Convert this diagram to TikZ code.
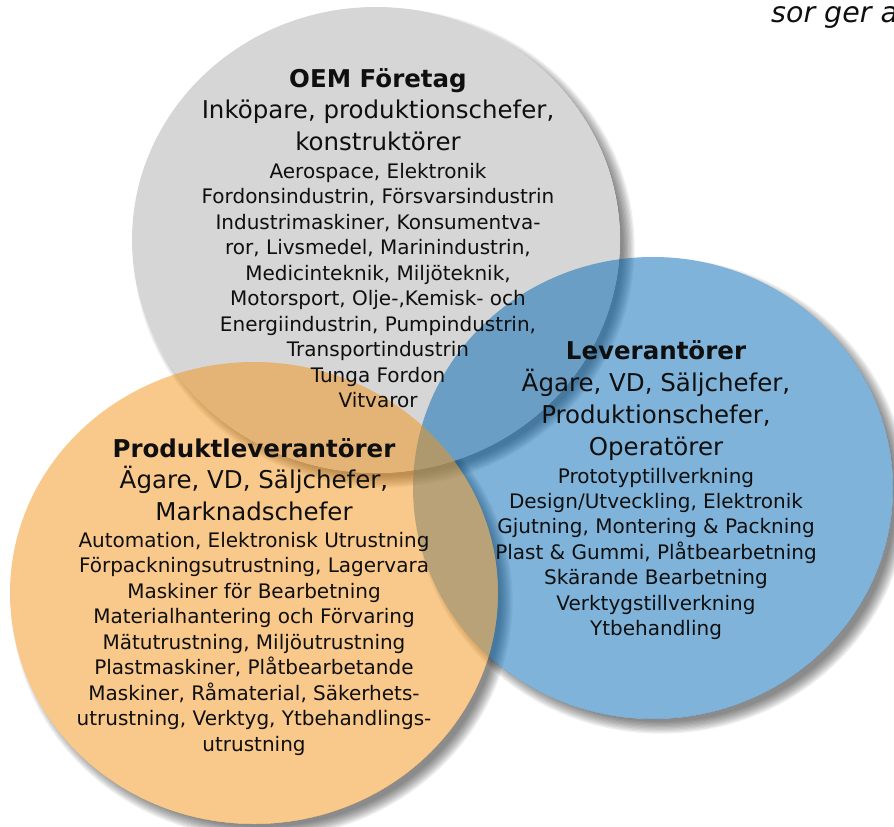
\documentclass[tikz,border=0pt]{standalone}
\usepackage{fontspec}
\setmainfont{DejaVu Sans}
\definecolor{greyc}{RGB}{214,214,214}
\definecolor{bluec}{RGB}{0,104,181}
\definecolor{orangec}{RGB}{243,147,23}
\definecolor{inkc}{RGB}{15,15,15}
\tikzset{
  txthead/.style={font=\fontsize{24.5}{28}\selectfont\bfseries, anchor=base, inner sep=0pt, text=inkc},
  txtmid/.style={font=\fontsize{24.5}{29}\selectfont, anchor=base, inner sep=0pt, text=inkc},
  txtsmall/.style={font=\fontsize{20}{24}\selectfont, anchor=base, inner sep=0pt, text=inkc},
  txtnote/.style={font=\fontsize{28.5}{32}\selectfont\itshape, anchor=base west, inner sep=0pt, text=inkc},
}
\newcommand{\vennshadow}[4]{%
  \begin{scope}[even odd rule]
    \clip (-20,-20) rectangle (920,850) (#1,#2) ellipse [x radius=#3, y radius=#4];
    \foreach \s in {0,...,9}
      \fill[black,opacity=0.06] (#1+8,#2+8) ellipse [x radius=#3-5+1.3*\s, y radius=#4-5+1.3*\s];
  \end{scope}}
\begin{document}
\begin{tikzpicture}[x=1pt,y=-1pt]
\useasboundingbox (0,0) rectangle (894,827);
\clip (0,0) rectangle (894,827);
% shadows
\vennshadow{376}{240}{244}{233}
\vennshadow{653}{488}{240}{231}
\vennshadow{254}{593}{244}{231}
% circles
\fill[greyc] (376,240) ellipse [x radius=244, y radius=233];
\fill[bluec, opacity=0.5] (653,488) ellipse [x radius=240, y radius=231];
\fill[orangec, opacity=0.5] (254,593) ellipse [x radius=244, y radius=231];
% grey texts
\node[txthead] (gh) at (378,87) {OEM Företag};
\node[txtmid] (gm1) at (378,118) {Inköpare, produktionschefer,};
\node[txtmid] (gm2) at (378,150) {konstruktörer};
\foreach \yy/\txt [count=\idx] in {
  178/{Aerospace, Elektronik},
  203.5/{Fordonsindustrin, Försvarsindustrin},
  229/{Industrimaskiner, Konsumentva-},
  254.5/{ror, Livsmedel, Marinindustrin,},
  280/{Medicinteknik, Miljöteknik,},
  305.5/{Motorsport, Olje-,Kemisk- och},
  331/{Energiindustrin, Pumpindustrin,},
  356.5/{Transportindustrin},
  382/{Tunga Fordon},
  407.5/{Vitvaror}}
  \node[txtsmall] (gs\idx) at (378,\yy) {\txt};
% orange texts
\node[txthead] (oh) at (254,457) {Produktleverantörer};
\node[txtmid] (om1) at (254,488) {Ägare, VD, Säljchefer,};
\node[txtmid] (om2) at (254,520) {Marknadschefer};
\foreach \yy/\txt [count=\idx] in {
  547/{Automation, Elektronisk Utrustning},
  572.5/{Förpackningsutrustning, Lagervara},
  598/{Maskiner för Bearbetning},
  623.5/{Materialhantering och Förvaring},
  649/{Mätutrustning, Miljöutrustning},
  674.5/{Plastmaskiner, Plåtbearbetande},
  700/{Maskiner, Råmaterial, Säkerhets-},
  725.5/{utrustning, Verktyg, Ytbehandlings-},
  751/{utrustning}}
  \node[txtsmall] (os\idx) at (254,\yy) {\txt};
% blue texts
\node[txthead] (bh) at (656,359) {Leverantörer};
\node[txtmid] (bm1) at (656,391) {Ägare, VD, Säljchefer,};
\node[txtmid] (bm2) at (656,423) {Produktionschefer,};
\node[txtmid] (bm3) at (656,455) {Operatörer};
\foreach \yy/\txt [count=\idx] in {
  483/{Prototyptillverkning},
  508/{Design/Utveckling, Elektronik},
  533.5/{Gjutning, Montering \& Packning},
  559/{Plast \& Gummi, Plåtbearbetning},
  584.5/{Skärande Bearbetning},
  610/{Verktygstillverkning},
  635.5/{Ytbehandling}}
  \node[txtsmall] (bs\idx) at (656,\yy) {\txt};
% cut-off note at top right
\node[txtnote] (note) at (771,22) {sor ger a};
\end{tikzpicture}
\end{document}
